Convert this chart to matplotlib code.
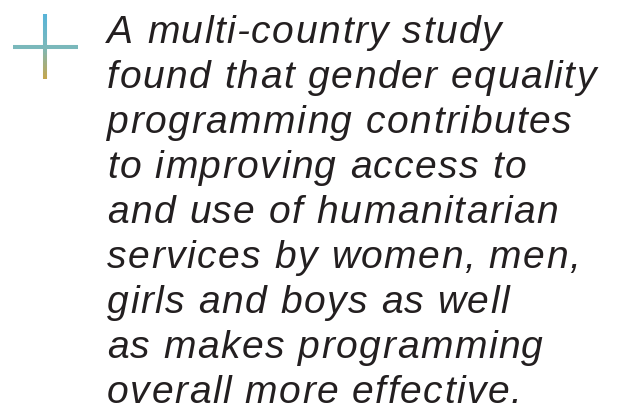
import numpy as np
import matplotlib
matplotlib.use("Agg")
import matplotlib.pyplot as plt
from matplotlib import font_manager, ft2font
from matplotlib.collections import LineCollection
from matplotlib.colors import LinearSegmentedColormap

lines = [
    "A multi-country study",
    "found that gender equality",
    "programming contributes",
    "to improving access to",
    "and use of humanitarian",
    "services by women, men,",
    "girls and boys as well",
    "as makes programming",
    "overall more effective.",
]

W, H = 617, 409
EM = 39.0          # font em size in pixels
TRACK = 1.5        # extra letter spacing in pixels
LEAD = 45.0        # baseline to baseline
X0, Y0 = 107, 43

fig = plt.figure(figsize=(W / 100, H / 100), dpi=100)
ax = fig.add_axes([0, 0, 1, 1])
ax.set_xlim(0, W)
ax.set_ylim(H, 0)
ax.axis("off")

# plus sign: teal horizontal bar, blue-to-gold vertical bar
ax.plot([13, 78], [47, 47], color="#7ab8bb", lw=2.9, solid_capstyle="butt")
ys = np.linspace(14, 79, 70)
segs = [[(45, ys[i]), (45, ys[i + 1])] for i in range(len(ys) - 1)]
cmap = LinearSegmentedColormap.from_list("g", ["#58b4d8", "#7ab8bb", "#c4a64e"])
lc = LineCollection(segs, colors=cmap(np.linspace(0, 1, len(segs))), lw=2.9)
ax.add_collection(lc)

# text with letter spacing, one glyph at a time
fp = font_manager.FontProperties(family="Liberation Sans", style="italic")
font = ft2font.FT2Font(font_manager.findfont(fp))
font.set_size(EM, 72)
size_pt = EM * 72 / 100

for i, txt in enumerate(lines):
    x = X0
    y = Y0 + i * LEAD
    for c in txt:
        ax.text(x, y, c, fontproperties=fp, fontsize=size_pt,
                color="#231f20", va="baseline", ha="left")
        g = font.load_char(ord(c))
        x += g.linearHoriAdvance / 65536 + TRACK

fig.savefig("out.png", dpi=100)
